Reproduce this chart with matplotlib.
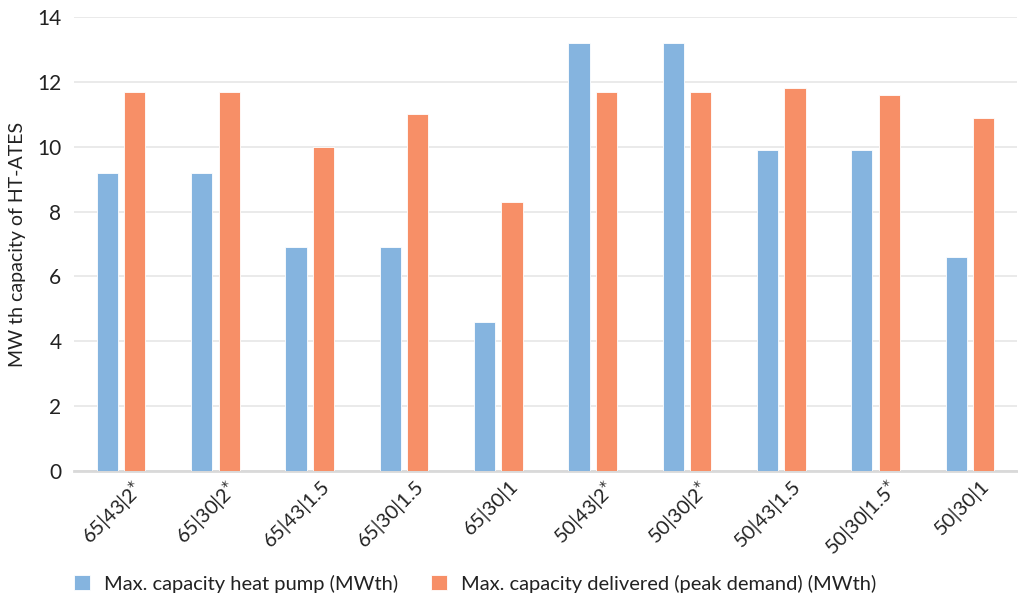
import matplotlib
matplotlib.use("Agg")
import matplotlib.pyplot as plt
import matplotlib.transforms as mtransforms
import numpy as np

categories = ["65|43|2$^{\\mathsf{*}}$", "65|30|2$^{\\mathsf{*}}$", "65|43|1.5", "65|30|1.5", "65|30|1",
              "50|43|2$^{\\mathsf{*}}$", "50|30|2$^{\\mathsf{*}}$", "50|43|1.5", "50|30|1.5$^{\\mathsf{*}}$", "50|30|1"]
heat_pump = [9.2, 9.2, 6.9, 6.9, 4.6, 13.2, 13.2, 9.9, 9.9, 6.6]
delivered = [11.7, 11.7, 10.0, 11.0, 8.3, 11.7, 11.7, 11.8, 11.6, 10.9]
series_names = ["Max. capacity heat pump (MWth)", "Max. capacity delivered (peak demand) (MWth)"]
y_ticks = [0, 2, 4, 6, 8, 10, 12, 14]

plt.rcParams['font.family'] = ['Lato', 'DejaVu Sans']
plt.rcParams['mathtext.fontset'] = 'custom'
plt.rcParams['mathtext.rm'] = 'Lato'
plt.rcParams['mathtext.sf'] = 'DejaVu Sans'

W, H = 1018, 596
fig = plt.figure(figsize=(W/100, H/100), dpi=100)
ax = fig.add_axes([74/W, 1-471/H, (1017-74)/W, (471-17)/H])

x = np.arange(len(categories))
bw = 0.225
off = 0.145
blue = "#85B4DF"
orange = "#F78F67"
txt = "#222222"
b1 = ax.bar(x-off, heat_pump, bw, color=blue, edgecolor="white", linewidth=0.6, label=series_names[0], zorder=3)
b2 = ax.bar(x+off, delivered, bw, color=orange, edgecolor="white", linewidth=0.6, label=series_names[1], zorder=3)

ax.set_xlim(-0.5, len(categories)-0.5)
ax.set_ylim(0, 14)
ax.set_yticks(y_ticks)
ax.set_yticklabels([str(t) for t in y_ticks], fontsize=15, color=txt)
ax.grid(axis='y', color="#e6e6e6", linewidth=1.2, zorder=0)
ax.set_axisbelow(True)
for s in ['top', 'right', 'left']:
    ax.spines[s].set_visible(False)
ax.spines['bottom'].set_color("#d9d9d9")
ax.spines['bottom'].set_linewidth(2)
ax.tick_params(axis='both', length=0)
ax.tick_params(axis='y', pad=9)
ax.set_xticks(x)
ax.set_xticklabels(categories, rotation=45, ha='right', rotation_mode='anchor', fontsize=14.5, color=txt)
ax.tick_params(axis='x', pad=4)
shift = mtransforms.ScaledTranslation(10/100, 0, fig.dpi_scale_trans)
for lbl in ax.get_xticklabels():
    lbl.set_transform(lbl.get_transform() + shift)
ax.set_ylabel("MW th capacity of HT-ATES", fontsize=14, color=txt, labelpad=8)

leg = fig.legend(handles=[b1, b2], labels=series_names, loc='lower left',
                 bbox_to_anchor=(56/W, -0.025), ncol=2, frameon=False, fontsize=14.5,
                 handlelength=0.8, handleheight=0.8, columnspacing=1.6, handletextpad=0.7,
                 labelcolor=txt)

fig.savefig("out.png", dpi=100)
